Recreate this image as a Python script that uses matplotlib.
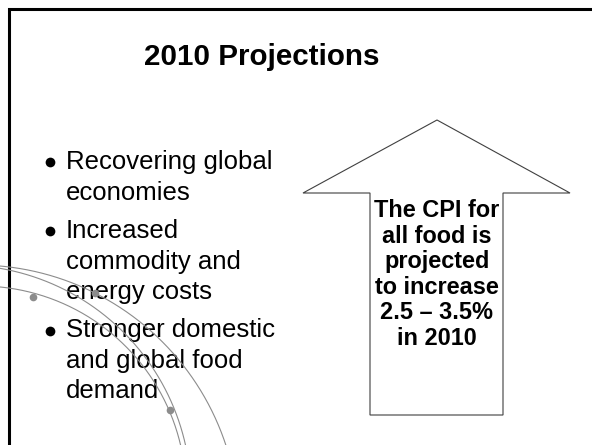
import numpy as np
import matplotlib.pyplot as plt
from matplotlib.patches import Polygon

plt.rcParams['font.family'] = ['Liberation Sans', 'DejaVu Sans']

title = '2010 Projections'
bullets = [['Recovering global', 'economies'],
           ['Increased', 'commodity and', 'energy costs'],
           ['Stronger domestic', 'and global food', 'demand']]
arrow_lines = ['The CPI for', 'all food is', 'projected',
               'to increase', '2.5 \u2013 3.5%', 'in 2010']

# slide decoration (pixel space, y grows downwards)
arcs = [(-23, 527, 262), (-39, 495, 230), (-20, 492, 206)]
dots = [(33, 297), (95, 293), (170, 410)]
arrow = [(437, 120), (570, 193), (503, 193), (503, 415),
         (370, 415), (370, 193), (303, 193)]

W, H = 592, 445
fig = plt.figure(figsize=(W / 100, H / 100), dpi=100)
ax = fig.add_axes([0, 0, 1, 1])
ax.set_xlim(0, W)
ax.set_ylim(H, 0)
ax.axis('off')

def px(p):
    return p * 0.72

# frame
ax.plot([8.5, 8.5, W + 5], [H + 5, 8.5, 8.5], color='black', lw=2.2,
        solid_joinstyle='miter', clip_on=False)

# arcs
t = np.linspace(0, np.pi / 2 + 0.4, 400)
for cx, cy, r in arcs:
    ax.plot(cx + r * np.cos(t), cy - r * np.sin(t), color='#8c8c8c', lw=0.8,
            zorder=4)
for x, y in dots:
    ax.plot(x, y, 'o', color='#8c8c8c', ms=5.5, mec='none', zorder=4)

ax.text(262, 57, title, ha='center', va='center', fontsize=px(29.6),
        fontweight='bold')

# bullet list
y = 169
for item in bullets:
    ax.plot(50, y - 7, 'o', color='black', ms=7, mec='none')
    for line in item:
        ax.text(66, y, line, ha='left', va='baseline', fontsize=px(25.8))
        y += 30.5
    y += 8

# arrow shape with text
ax.add_patch(Polygon(arrow, closed=True, fc='white', ec='#404040', lw=0.8))
for i, line in enumerate(arrow_lines):
    ax.text(437, 217 + i * 25.6, line, ha='center', va='baseline',
            fontsize=px(23.5), fontweight='bold')

fig.savefig('out.png', dpi=100)
